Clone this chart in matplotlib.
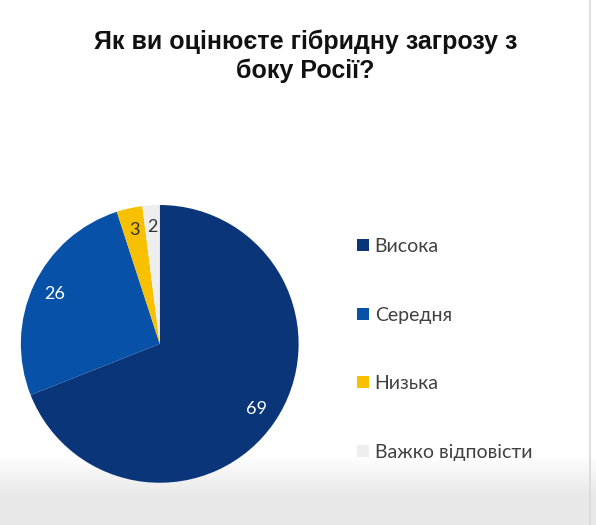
import matplotlib
matplotlib.use("Agg")
import matplotlib.pyplot as plt
import numpy as np

categories = ["Висока", "Середня", "Низька", "Важко відповісти"]
values = [69, 26, 3, 2]
colors = ["#0B3579", "#0752A8", "#F7C100", "#EEEEEE"]
label_colors = ["white", "white", "#333333", "#333333"]

fig = plt.figure(figsize=(5.96, 5.25), dpi=100)
fig.patch.set_facecolor("white")

# subtle bottom gradient (screen capture background)
bg = fig.add_axes([0, 0, 1, 1], zorder=-10)
grad = np.ones((525, 1))
yy = np.arange(525)
grad[:, 0] = np.where(yy > 455, 1 - 0.09 * np.clip((yy - 455) / 40, 0, 1), 1.0)
bg.imshow(np.dstack([grad, grad, grad]), aspect="auto", extent=[0, 1, 0, 1], origin="upper")
bg.axvline(0.99, color="#d8d8d8", lw=1.2)
bg.set_xlim(0, 1); bg.set_ylim(0, 1)
bg.axis("off")

ax = fig.add_axes([0.268 - 0.233, 0.345 - 0.265, 0.466, 0.53])
wedges, texts = ax.pie(values, colors=colors, startangle=90, counterclock=False,
                       labels=[str(v) for v in values], labeldistance=0.84,
                       textprops=dict(fontsize=13, family="Lato"),
                       wedgeprops=dict(linewidth=0))
for t, c in zip(texts, label_colors):
    t.set_color(c)
    t.set_horizontalalignment("center")
    t.set_verticalalignment("center")
ax.set_xlim(-1, 1)
ax.set_ylim(-1, 1)
ax.set_aspect("equal")

leg = fig.legend(wedges, categories, loc="upper left", bbox_to_anchor=(0.57, 0.58),
                 frameon=False, labelspacing=2.65, handlelength=0.6, handleheight=0.6,
                 handletextpad=0.3, prop=dict(family="Lato", size=14))
for t in leg.get_texts():
    t.set_color("#404040")

fig.text(0.513, 0.893, "Як ви оцінюєте гібридну загрозу з\nбоку Росії?", ha="center", va="center",
         fontsize=18, fontweight="bold", family="Liberation Sans", color="#111111",
         linespacing=1.25)

fig.savefig("out.png", dpi=100)
